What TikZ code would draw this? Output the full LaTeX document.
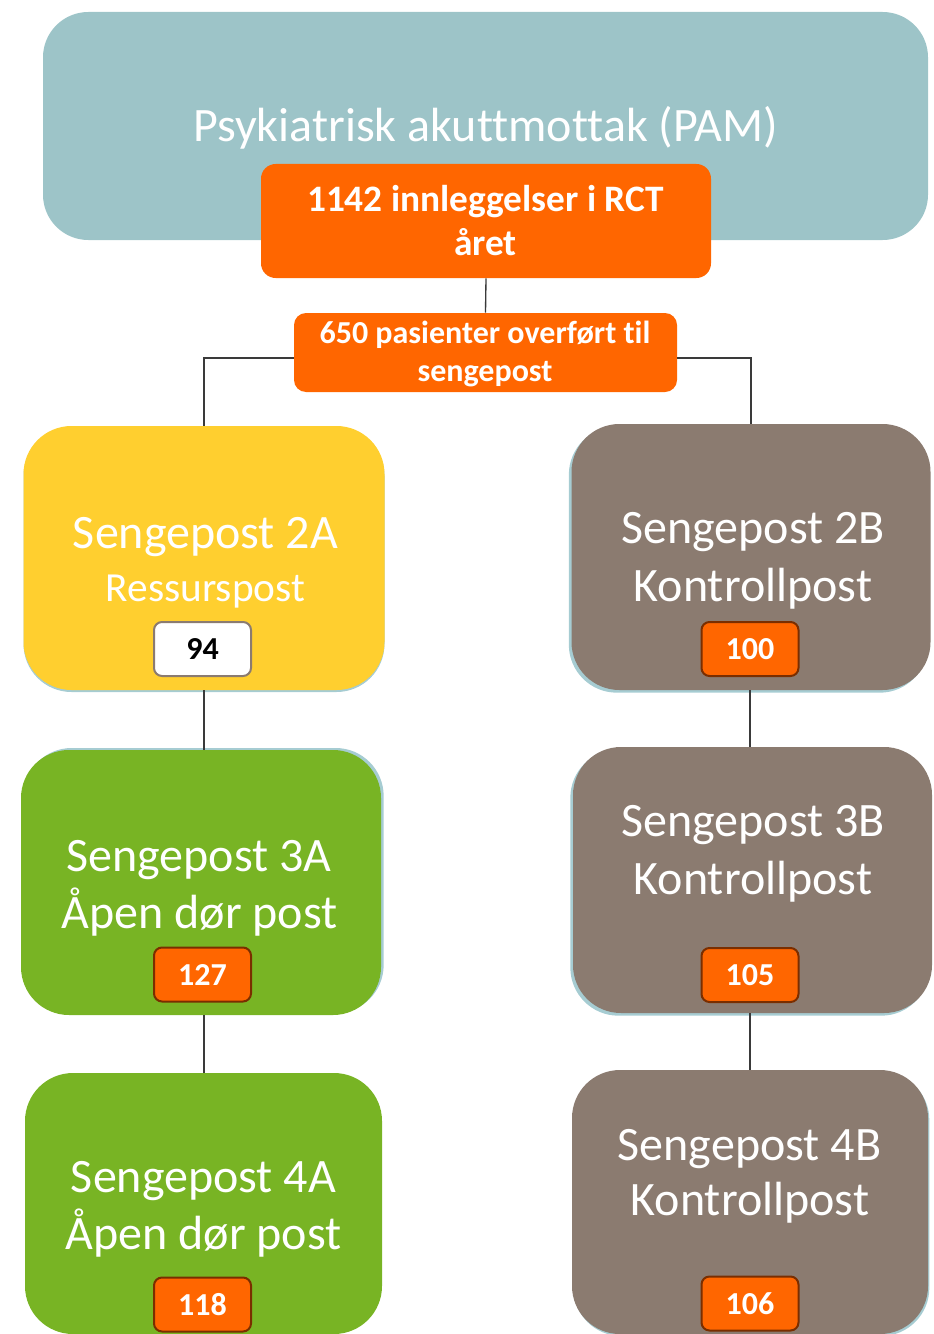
\documentclass[tikz,border=0pt]{standalone}
\usepackage{fontspec}
\setmainfont{Carlito}[Ligatures=NoCommon]
\usetikzlibrary{shadows}
\newlength\pxu
\setlength\pxu{0.75pt}
\definecolor{pamblue}{HTML}{9DC4C8}
\definecolor{edgeblue}{HTML}{A6CCD2}
\definecolor{hotorange}{HTML}{FF6600}
\definecolor{sunyellow}{HTML}{FFCF2F}
\definecolor{taupe}{HTML}{8B7B70}
\definecolor{leafgreen}{HTML}{78B424}
\definecolor{rustedge}{HTML}{7A2E00}
\definecolor{wire}{HTML}{3A3A3A}
\tikzset{
  panel/.style={rectangle, draw=none, inner sep=0pt},
  wardbox/.style={panel, rounded corners=36pt},
  tagbox/.style={panel, fill=hotorange, rounded corners=11pt},
  badge/.style={rectangle, rounded corners=6pt, line width=1.5pt, inner sep=0pt,
    minimum width={97*\pxu}, minimum height={54*\pxu},
    font=\fontsize{24}{24}\selectfont\bfseries},
  hotbadge/.style={badge, draw=rustedge, fill=hotorange, text=white},
  plainbadge/.style={badge, draw=taupe, fill=white, text=black},
  bigtxt/.style={anchor=base, text=white, inner sep=0pt, font=\fontsize{36}{36}\selectfont},
  midtxt/.style={anchor=base, text=white, inner sep=0pt, font=\fontsize{31}{31}\selectfont},
  tagtxt/.style={anchor=base, text=white, inner sep=0pt, font=\fontsize{28}{28}\selectfont\bfseries},
  smalltagtxt/.style={anchor=base, text=white, inner sep=0pt, font=\fontsize{24}{24}\selectfont\bfseries},
  link/.style={draw=wire, line width=1pt},
  rim/.style 2 args={general shadow={shadow xshift=#1, shadow yshift=#2, fill=edgeblue}},
}
\begin{document}
\begin{tikzpicture}[x=0.75pt, y=-0.75pt]
\useasboundingbox (0,0) rectangle (934,1334);

% admission unit with its intake tag
\node[panel, fill=pamblue, rounded corners=34pt, minimum width={885*\pxu}, minimum height={228*\pxu}] (pam) at (485.5,126) {};
\node[bigtxt] (pamtxt) at (485.5,142) {Psykiatrisk akuttmottak (PAM)};
\node[tagbox, minimum width={450*\pxu}, minimum height={114*\pxu}] (intake) at (486,221) {};
\node[tagtxt] (intake1) at (485.5,211) {1142 innleggelser i RCT};
\node[tagtxt] (intake2) at (485.5,255) {året};

\node[tagbox, rounded corners=9pt, minimum width={383*\pxu}, minimum height={79*\pxu}] (moved) at (485.5,352.5) {};
\node[smalltagtxt] (moved1) at (485,343) {650 pasienter overført til};
\node[smalltagtxt] (moved2) at (485,381) {sengepost};

% left column of wards
\node[wardbox, fill=sunyellow, rim={0pt}{-1.5pt}, minimum width={361*\pxu}, minimum height={264*\pxu}] (w2A) at (204,558) {};
\node[bigtxt] (w2At) at (205.5,548) {Sengepost 2A};
\node[midtxt] (w2As) at (205.5,601) {Ressurspost};
\node[plainbadge] (n2A) at (202.5,649) {94};

\node[wardbox, fill=leafgreen, rim={2pt}{1.5pt}, minimum width={360*\pxu}, minimum height={265*\pxu}] (w3A) at (201,882.5) {};
\node[bigtxt] (w3At) at (199,871) {Sengepost 3A};
\node[bigtxt] (w3As) at (199.5,928) {Åpen dør post};
\node[hotbadge] (n3A) at (202.5,974.5) {127};

\node[wardbox, fill=leafgreen, minimum width={357*\pxu}, minimum height={261*\pxu}] (w4A) at (203.5,1203.5) {};
\node[bigtxt] (w4At) at (203.5,1192.5) {Sengepost 4A};
\node[bigtxt] (w4As) at (203.5,1249) {Åpen dør post};
\node[hotbadge] (n4A) at (202.5,1304.5) {118};

% right column of wards
\node[wardbox, fill=taupe, rim={-2pt}{-2pt}, minimum width={359*\pxu}, minimum height={266*\pxu}] (w2B) at (751,557) {};
\node[bigtxt] (w2Bt) at (753,543) {Sengepost 2B};
\node[bigtxt] (w2Bs) at (753,601) {Kontrollpost};
\node[hotbadge] (n2B) at (750,649) {100};

\node[wardbox, fill=taupe, rim={-2pt}{-2pt}, minimum width={359*\pxu}, minimum height={266*\pxu}] (w3B) at (752.5,880) {};
\node[bigtxt] (w3Bt) at (753,836.5) {Sengepost 3B};
\node[bigtxt] (w3Bs) at (753,894.5) {Kontrollpost};
\node[hotbadge] (n3B) at (750,975) {105};

\node[wardbox, fill=taupe, rim={1pt}{-1.5pt}, minimum width={356*\pxu}, minimum height={264*\pxu}] (w4B) at (750,1202) {};
\node[bigtxt] (w4Bt) at (749.5,1160) {Sengepost 4B};
\node[bigtxt] (w4Bs) at (750,1215) {Kontrollpost};
\node[hotbadge] (n4B) at (750,1303.5) {106};

% connectors
\coordinate (split) at (485,358);
\draw[link] (intake.south) -- (moved.north);
\draw[link] (split -| moved.west) -| (w2A.north);
\draw[link] (split -| moved.east) -| (w2B.north);
\draw[link] (w2A.south) -- (w2A.south |- w3A.north);
\draw[link] (w3A.south -| w2A.south) -- (w2A.south |- w4A.north);
\draw[link] (n2B.south |- w2B.south) -- (n2B.south |- w3B.north);
\draw[link] (n2B.south |- w3B.south) -- (n2B.south |- w4B.north);
\end{tikzpicture}
\end{document}
